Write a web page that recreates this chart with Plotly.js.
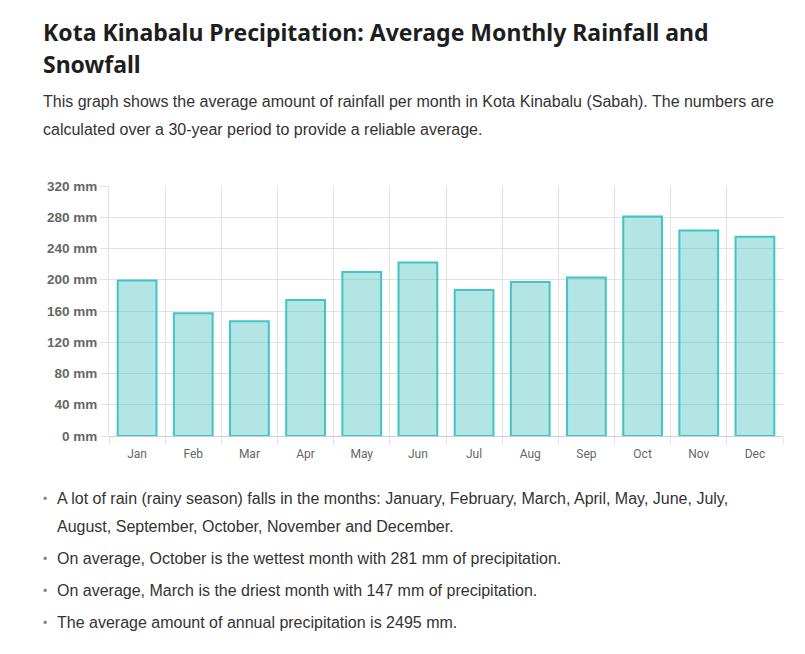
<!DOCTYPE html>
<html>
<head>
<meta charset="utf-8">
<script src="https://cdn.plot.ly/plotly-3.0.1.min.js"></script>
<style>
  html, body { margin: 0; padding: 0; background: #fff; width: 805px; height: 654px; overflow: hidden; }
  #title { position: absolute; left: 43px; top: 16px; width: 730px; margin: 0;
           font-family: "Noto Sans", "Open Sans", sans-serif; font-weight: 700;
           font-size: 23px; line-height: 32px; color: #1e1e1e; }
  #intro { position: absolute; left: 43px; top: 88px; width: 745px; margin: 0;
           font-family: "Liberation Sans", Arial, sans-serif; font-size: 16px; line-height: 28px; color: #333; }
  #chart { position: absolute; left: 0; top: 160px; width: 805px; height: 310px; }
  #facts { position: absolute; left: 43px; top: 485px; width: 720px; margin: 0; padding: 0; list-style: none;
           font-family: "Liberation Sans", Arial, sans-serif; font-size: 16px; line-height: 28px; color: #333; }
  #facts li { position: relative; padding-left: 14px; margin-bottom: 4px; }
  #facts li::before { content: "\2022"; position: absolute; left: 0; top: 0; color: #888; font-size: 12px; }
</style>
</head>
<body>
<h1 id="title">Kota Kinabalu Precipitation: Average Monthly Rainfall and Snowfall</h1>
<p id="intro">This graph shows the average amount of rainfall per month in Kota Kinabalu (Sabah). The numbers are calculated over a 30-year period to provide a reliable average.</p>
<div id="chart"></div>
<ul id="facts">
  <li>A lot of rain (rainy season) falls in the months: January, February, March, April, May, June, July, August, September, October, November and December.</li>
  <li>On average, October is the wettest month with 281 mm of precipitation.</li>
  <li>On average, March is the driest month with 147 mm of precipitation.</li>
  <li>The average amount of annual precipitation is 2495 mm.</li>
</ul>
<script>
const months = ["Jan","Feb","Mar","Apr","May","Jun","Jul","Aug","Sep","Oct","Nov","Dec"];
const rainfall = [199, 157, 147, 174, 210, 222, 187, 197, 203, 281, 263, 255];
const yTickValues = [0, 40, 80, 120, 160, 200, 240, 280, 320];
const yTickLabels = yTickValues.map(v => v + " mm");

const trace = {
  type: "bar",
  x: months,
  y: rainfall,
  marker: { color: "rgba(75,192,192,0.42)", line: { color: "rgb(64,196,200)", width: 2 } },
  hoverinfo: "x+y"
};

const layout = {
  width: 805, height: 310,
  margin: { l: 109, r: 22, t: 26, b: 34 },
  paper_bgcolor: "#fff", plot_bgcolor: "#fff",
  showlegend: false,
  bargap: 0.31,
  xaxis: {
    type: "category",
    tickson: "boundaries",
    ticks: "outside", ticklen: 7, tickcolor: "#e2e2e2", tickwidth: 1,
    ticklabelstandoff: 9,
    showgrid: true, gridcolor: "#e2e2e2", gridwidth: 1,
    showline: false,
    tickfont: { family: "Roboto, 'Liberation Sans', sans-serif", size: 12, color: "#666" }
  },
  yaxis: {
    range: [0, 320],
    tickvals: yTickValues, ticktext: yTickLabels,
    ticks: "outside", ticklen: 8, tickcolor: "#e2e2e2", tickwidth: 1,
    showgrid: true, gridcolor: "#e2e2e2", gridwidth: 1,
    zeroline: true, zerolinecolor: "#cfcfcf", zerolinewidth: 1,
    showline: true, linecolor: "#e2e2e2", linewidth: 1,
    tickfont: { family: "'Liberation Sans', Arial, sans-serif", size: 13.5, color: "#666", weight: "bold" }
  }
};

Plotly.newPlot("chart", [trace], layout, { displayModeBar: false });
</script>
</body>
</html>
